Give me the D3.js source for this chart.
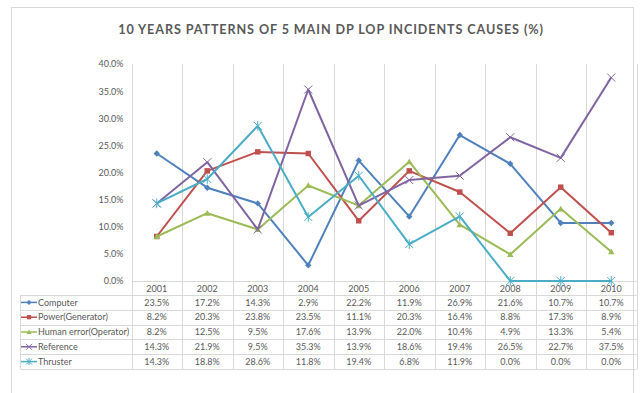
<!DOCTYPE html>
<html>
<head>
<meta charset="utf-8">
<script src="https://cdn.jsdelivr.net/npm/d3@7/dist/d3.min.js"></script>
<style>
  html, body { margin: 0; padding: 0; background: #fff; }
  svg { display: block; }
  text { font-family: Lato, "Open Sans", sans-serif; fill: #595959; }
</style>
</head>
<body>
<svg id="chart" width="640" height="393"></svg>
<script>
// Years along the category axis
const years = ["2001","2002","2003","2004","2005","2006","2007","2008","2009","2010"];

// Share of incidents per cause (%)
const computer  = [23.5, 17.2, 14.3, 2.9, 22.2, 11.9, 26.9, 21.6, 10.7, 10.7];
const power     = [8.2, 20.3, 23.8, 23.5, 11.1, 20.3, 16.4, 8.8, 17.3, 8.9];
const human     = [8.2, 12.5, 9.5, 17.6, 13.9, 22.0, 10.4, 4.9, 13.3, 5.4];
const reference = [14.3, 21.9, 9.5, 35.3, 13.9, 18.6, 19.4, 26.5, 22.7, 37.5];
const thruster  = [14.3, 18.8, 28.6, 11.8, 19.4, 6.8, 11.9, 0.0, 0.0, 0.0];

const seriesNames = ["Computer", "Power(Generator)", "Human error(Operator)", "Reference", "Thruster"];
const yTicks = [0, 5, 10, 15, 20, 25, 30, 35, 40];

const series = [
  { name: seriesNames[0], values: computer,  color: "#4F81BD", marker: "diamond" },
  { name: seriesNames[1], values: power,     color: "#C0504D", marker: "square" },
  { name: seriesNames[2], values: human,     color: "#9BBB59", marker: "triangle" },
  { name: seriesNames[3], values: reference, color: "#8064A2", marker: "cross" },
  { name: seriesNames[4], values: thruster,  color: "#4BACC6", marker: "star" }
];

const svg = d3.select("#chart");

// outer chart frame
svg.append("rect")
  .attr("x", 11.5).attr("y", 7.5).attr("width", 622).attr("height", 400)
  .attr("fill", "#fff").attr("stroke", "#d9d9d9");

// title
svg.append("text")
  .attr("x", 331).attr("y", 34)
  .attr("text-anchor", "middle")
  .style("font-size", "12.6px").style("font-weight", "bold")
  .style("letter-spacing", "0.9px")
  .text("10 YEARS PATTERNS OF 5 MAIN DP LOP INCIDENTS CAUSES (%)");

const plotLeft = 131.5, plotRight = 636.5, plotTop = 64, plotBottom = 281;
const x = d3.scaleBand().domain(years).range([plotLeft, plotRight]);
const y = d3.scaleLinear().domain([0, 40]).range([plotBottom, plotTop]);
const cx = d => x(d) + x.bandwidth() / 2;

const rowH = 14.8;
const headerBottom = plotBottom + 14;
const tableBottom = headerBottom + rowH * series.length;
const tableLeft = 20.5;

// vertical category gridlines running through plot and table
const bounds = years.map(d => x(d)).concat([plotRight]);
svg.append("g").selectAll("line").data(bounds).join("line")
  .attr("x1", d => Math.round(d) + 0.5).attr("x2", d => Math.round(d) + 0.5)
  .attr("y1", plotTop).attr("y2", tableBottom)
  .attr("stroke", "#d9d9d9");

// category axis line at 0%
svg.append("line")
  .attr("x1", plotLeft).attr("x2", plotRight).attr("y1", plotBottom + 0.5).attr("y2", plotBottom + 0.5)
  .attr("stroke", "#d9d9d9");

// table horizontal rules
const rowLines = d3.range(series.length + 1).map(i => headerBottom + i * rowH);
svg.append("g").selectAll("line").data(rowLines).join("line")
  .attr("x1", tableLeft).attr("x2", plotRight)
  .attr("y1", d => Math.round(d) + 0.5).attr("y2", d => Math.round(d) + 0.5)
  .attr("stroke", "#d9d9d9");
svg.append("line")
  .attr("x1", tableLeft).attr("x2", tableLeft)
  .attr("y1", headerBottom).attr("y2", tableBottom)
  .attr("stroke", "#d9d9d9");

// value axis
const yAxis = d3.axisLeft(y).tickValues(yTicks).tickSize(0).tickPadding(8)
  .tickFormat(d => d.toFixed(1) + "%");
const gy = svg.append("g").attr("transform", `translate(${plotLeft},0)`).call(yAxis);
gy.select(".domain").remove();
gy.selectAll("text").style("font-size", "9px").style("fill", "#595959").style("font-family", "Lato, 'Open Sans', sans-serif");

// year headers
svg.append("g").selectAll("text").data(years).join("text")
  .attr("x", d => cx(d))
  .attr("y", plotBottom + 10.5)
  .attr("text-anchor", "middle")
  .style("font-size", "9px")
  .text(d => d);

// marker shapes
function drawMarker(g, type, color, size) {
  const s = size;
  if (type === "diamond") {
    g.append("path").attr("d", `M0,${-s}L${s},0L0,${s}L${-s},0Z`).attr("fill", color);
  } else if (type === "square") {
    g.append("rect").attr("x", -s * 0.85).attr("y", -s * 0.85).attr("width", s * 1.7).attr("height", s * 1.7).attr("fill", color);
  } else if (type === "triangle") {
    g.append("path").attr("d", `M0,${-s}L${s},${s * 0.8}L${-s},${s * 0.8}Z`).attr("fill", color);
  } else if (type === "cross") {
    g.append("path").attr("d", `M${-s},${-s}L${s},${s}M${-s},${s}L${s},${-s}`).attr("stroke", color).attr("stroke-width", 1).attr("fill", "none");
  } else if (type === "star") {
    g.append("path").attr("d", `M${-s},${-s}L${s},${s}M${-s},${s}L${s},${-s}M0,${-s * 1.2}L0,${s * 1.2}`).attr("stroke", color).attr("stroke-width", 1).attr("fill", "none");
  }
}

const line = d3.line()
  .x((d, i) => cx(years[i]))
  .y(d => y(d));

// series lines and markers
series.forEach(s => {
  const g = svg.append("g");
  g.append("path").attr("d", line(s.values))
    .attr("fill", "none").attr("stroke", s.color).attr("stroke-width", 2)
    .attr("stroke-linejoin", "round");
  s.values.forEach((v, i) => {
    const m = g.append("g").attr("transform", `translate(${cx(years[i])},${y(v)})`);
    drawMarker(m, s.marker, s.color, s.marker === "cross" || s.marker === "star" ? 4 : 3.2);
  });
});

// data table rows: legend key + values
series.forEach((s, r) => {
  const cyRow = headerBottom + r * rowH + rowH / 2;
  const key = svg.append("g");
  key.append("line").attr("x1", 21).attr("x2", 37).attr("y1", cyRow).attr("y2", cyRow)
    .attr("stroke", s.color).attr("stroke-width", 1.5);
  const m = key.append("g").attr("transform", `translate(29,${cyRow})`);
  drawMarker(m, s.marker, s.color, s.marker === "cross" || s.marker === "star" ? 3 : 2.5);
  key.append("text").attr("x", 38).attr("y", cyRow + 3.2).style("font-size", "9px").text(s.name);

  svg.append("g").selectAll("text").data(s.values).join("text")
    .attr("x", (d, i) => cx(years[i]))
    .attr("y", cyRow + 3.2)
    .attr("text-anchor", "middle")
    .style("font-size", "9px")
    .text(d => d.toFixed(1) + "%");
});
</script>
</body>
</html>
